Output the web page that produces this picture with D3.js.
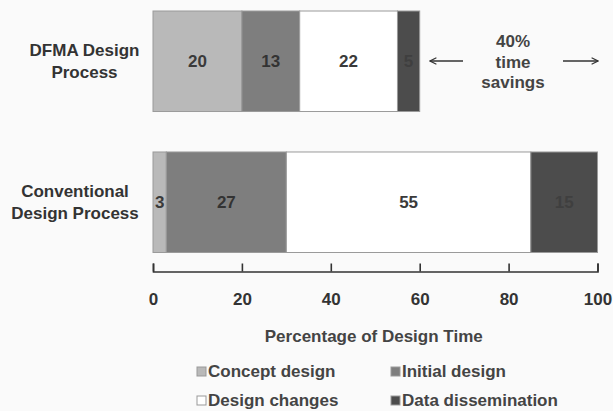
<!DOCTYPE html>
<html>
<head>
<meta charset="utf-8">
<script src="https://cdn.jsdelivr.net/npm/d3@7"></script>
<style>
  html, body { margin: 0; padding: 0; background: #fafafa; }
  svg { display: block; }
  text { font-family: "Liberation Sans", Arial, sans-serif; font-weight: bold; }
</style>
</head>
<body>
<svg id="chart" width="613" height="411"></svg>
<script>
// ---- data ----
const categories = ["DFMA Design Process", "Conventional Design Process"];
const categoryLines = [["DFMA Design", "Process"], ["Conventional", "Design Process"]];
const seriesNames = ["Concept design", "Initial design", "Design changes", "Data dissemination"];
const dfmaValues = [20, 13, 22, 5];
const conventionalValues = [3, 27, 55, 15];
const tickValues = [0, 20, 40, 60, 80, 100];
const axisTitle = "Percentage of Design Time";
const annotationLines = ["40%", "time", "savings"];

// ---- styles ----
const colors = ["#b9b9b9", "#7e7e7e", "#ffffff", "#4c4c4c"];
const labelColors = ["#3a3a3a", "#333333", "#3a3a3a", "#3f3f3f"];
const textColor = "#333333";

const svg = d3.select("#chart");
svg.append("rect").attr("width", 613).attr("height", 411).attr("fill", "#fafafa");

const x = d3.scaleLinear().domain([0, 100]).range([153, 597.5]);
const y = d3.scaleBand().domain(categories).range([11, 252.5]).paddingInner(0.287).paddingOuter(0);

const rows = [dfmaValues, conventionalValues].map((vals, i) => {
  const row = { category: categories[i] };
  seriesNames.forEach((s, j) => row[s] = vals[j]);
  return row;
});
const stacked = d3.stack().keys(seriesNames)(rows);

// bars
const layers = svg.append("g").selectAll("g").data(stacked).join("g")
  .attr("fill", (d, i) => colors[i]);
layers.selectAll("rect").data(d => d).join("rect")
  .attr("x", d => x(d[0]))
  .attr("y", d => y(d.data.category))
  .attr("width", d => x(d[1]) - x(d[0]))
  .attr("height", y.bandwidth())
  .attr("stroke", "#9a9a9a")
  .attr("stroke-width", 1);

// value labels
stacked.forEach((layer, i) => {
  svg.append("g").selectAll("text").data(layer).join("text")
    .attr("x", d => (x(d[0]) + x(d[1])) / 2)
    .attr("y", d => y(d.data.category) + y.bandwidth() / 2)
    .attr("dy", "0.36em")
    .attr("text-anchor", "middle")
    .attr("font-size", 17)
    .attr("fill", labelColors[i])
    .text(d => d[1] - d[0]);
});

// category labels
const catX = [84.5, 75];
categories.forEach((c, i) => {
  const cy = y(c) + y.bandwidth() / 2;
  const t = svg.append("text")
    .attr("text-anchor", "middle")
    .attr("font-size", 17)
    .attr("fill", textColor);
  categoryLines[i].forEach((line, k) => {
    t.append("tspan").attr("x", catX[i]).attr("y", cy - 5 + k * 22).text(line);
  });
});

// x axis (ticks pointing up)
const axisY = 271.5;
const axis = d3.axisBottom(x).tickValues(tickValues).tickSizeInner(-8).tickSizeOuter(-8).tickPadding(21.5);
const gAxis = svg.append("g").attr("transform", `translate(0,${axisY})`).call(axis);
gAxis.select(".domain").attr("stroke", "#333").attr("stroke-width", 1.6);
gAxis.selectAll(".tick line").attr("stroke", "#333").attr("stroke-width", 1.6);
gAxis.selectAll(".tick text")
  .attr("font-size", 17).attr("font-weight", "bold")
  .attr("font-family", "'Liberation Sans', Arial, sans-serif")
  .attr("fill", textColor);

// axis title
svg.append("text")
  .attr("x", x(50) - 1.5).attr("y", 342)
  .attr("text-anchor", "middle")
  .attr("font-size", 17)
  .attr("fill", "#444")
  .text(axisTitle);

// annotation: 40% time savings with arrows
const annX = 513;
annotationLines.forEach((line, k) => {
  svg.append("text")
    .attr("x", annX).attr("y", 47 + k * 20.5)
    .attr("text-anchor", "middle")
    .attr("font-size", 17)
    .attr("fill", "#444")
    .text(line);
});
const defs = svg.append("defs");
defs.append("marker").attr("id", "arrow")
  .attr("viewBox", "0 0 10 10").attr("refX", 9).attr("refY", 5)
  .attr("markerWidth", 8).attr("markerHeight", 8).attr("markerUnits", "userSpaceOnUse")
  .attr("orient", "auto")
  .append("path").attr("d", "M1,1 L9,5 L1,9").attr("fill", "none").attr("stroke", "#333").attr("stroke-width", 1.4);
const arrowY = 61;
svg.append("line").attr("x1", 463).attr("y1", arrowY).attr("x2", 430).attr("y2", arrowY)
  .attr("stroke", "#333").attr("stroke-width", 1.5).attr("marker-end", "url(#arrow)");
svg.append("line").attr("x1", 563).attr("y1", arrowY).attr("x2", 598).attr("y2", arrowY)
  .attr("stroke", "#333").attr("stroke-width", 1.5).attr("marker-end", "url(#arrow)");

// legend
const legendX = [197, 391];
const legendY = [367, 396];
const legend = svg.append("g").selectAll("g").data(seriesNames).join("g")
  .attr("transform", (d, i) => `translate(${legendX[i % 2]},${legendY[Math.floor(i / 2)]})`);
legend.append("rect")
  .attr("width", 9).attr("height", 9)
  .attr("fill", (d, i) => colors[i])
  .attr("stroke", "#999").attr("stroke-width", 1);
legend.append("text")
  .attr("x", 11).attr("y", 9.5)
  .attr("font-size", 17)
  .attr("fill", "#444")
  .text(d => d);
</script>
</body>
</html>
